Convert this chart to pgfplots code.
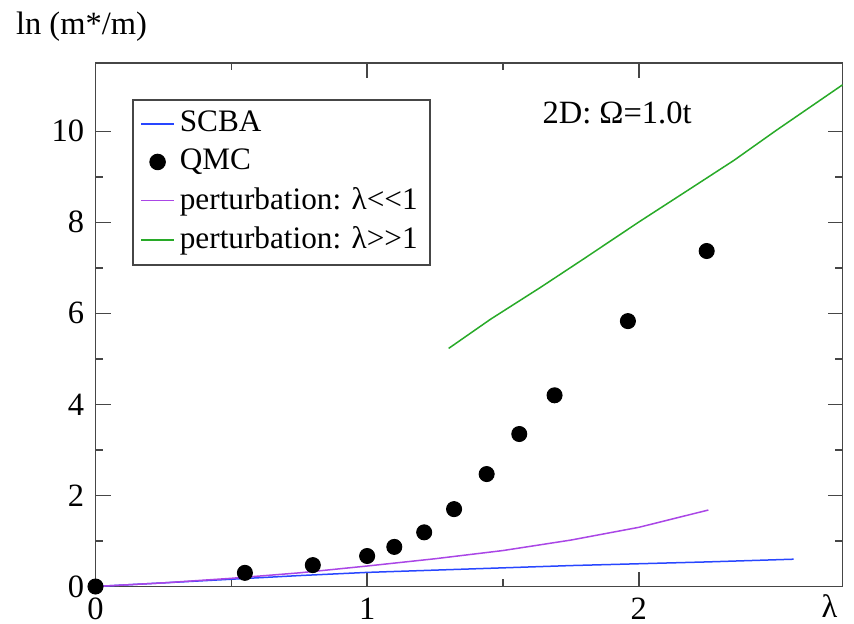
\documentclass[border=0pt]{standalone}
\usepackage{pgfplots}
\pgfplotsset{compat=1.18}
\usepackage{fontspec}
\setmainfont{Liberation Serif}
\definecolor{scba}{RGB}{40,70,255}
\definecolor{pviolet}{RGB}{170,70,230}
\definecolor{pgreen}{RGB}{40,170,40}
\definecolor{axgray}{RGB}{70,70,70}
\newcommand\lleq{<\kern0pt<}
\newcommand\ggeq{>\kern0pt>}
\begin{document}
\fontsize{13}{15.6}\selectfont
\begin{tikzpicture}
\begin{axis}[
  at={(0,0)}, anchor=south west,
  scale only axis, width=298.8pt, height=209.4pt,
  xmin=0, xmax=2.75, ymin=0, ymax=11.5,
  xtick={0,1,2}, ytick={0,2,4,6,8,10},
  minor x tick num=1, minor y tick num=1,
  tick align=inside,
  major tick length=6pt, minor tick length=3pt,
  xticklabel pos=left, yticklabel pos=left,
  axis line style={axgray, line width=0.6pt},
  every tick/.style={axgray, line width=0.6pt},
  /pgf/number format/assume math mode=true,
  ticklabel style={font=\rmfamily\fontsize{13}{15.6}\selectfont},
  legend style={at={(rel axis cs:0.049,0.931)}, anchor=north west,
    draw=axgray, line width=0.6pt, font=\fontsize{12.5}{15}\selectfont,
    inner xsep=3pt, inner ysep=2.5pt, row sep=1pt},
  legend cell align=left,
  legend image code/.code={\draw[mark repeat=2,mark phase=2,#1] plot coordinates {(0pt,0pt) (6.6pt,0pt) (13.2pt,0pt)};},
  clip=false,
]
\addplot[scba, line width=0.6pt] coordinates {
(0,0) (0.25,0.08) (0.5,0.16) (0.75,0.24) (1.0,0.31) (1.25,0.36) (1.5,0.41) (1.75,0.46) (2.0,0.50) (2.25,0.54) (2.57,0.60)};
\addlegendentry{SCBA}
\addplot[only marks, mark=*, mark size=3pt, black] coordinates {
(0,0) (0.55,0.30) (0.80,0.47) (1.00,0.67) (1.10,0.87) (1.21,1.19) (1.32,1.70) (1.44,2.47) (1.56,3.35) (1.69,4.20) (1.96,5.83) (2.25,7.37)};
\addlegendentry{QMC}
\addplot[pviolet, line width=0.6pt] coordinates {
(0,0) (0.25,0.08) (0.5,0.18) (0.75,0.30) (1.0,0.45) (1.25,0.61) (1.5,0.79) (1.75,1.02) (2.0,1.30) (2.256,1.68)};
\addlegendentry{perturbation: λ\lleq 1}
\addplot[pgreen, line width=0.6pt] coordinates {
(1.30,5.23) (1.454,5.87) (1.638,6.57) (1.798,7.20) (2.001,8.01) (2.19,8.74) (2.35,9.36) (2.506,10.02) (2.75,11.02)};
\addlegendentry{perturbation: λ\ggeq 1}
\node at (axis cs:1.92,10.4) {2D: Ω=1.0t};
\end{axis}
\node at (-5.6pt,223.8pt) {ln (m*/m)};
\node at (293.6pt,-8pt) {λ};
\pgfresetboundingbox
\path[use as bounding box] (-38.2pt,-14.6pt) rectangle (303.4pt,234.6pt);
\end{tikzpicture}
\end{document}
